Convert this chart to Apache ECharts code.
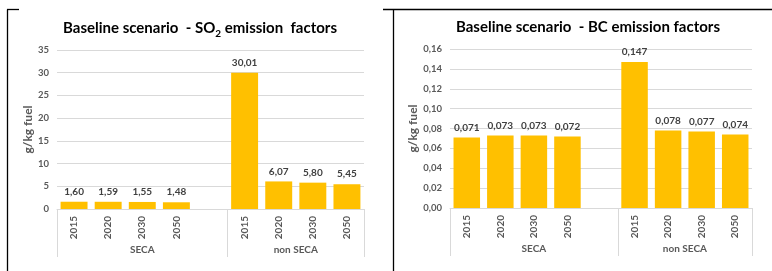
<!DOCTYPE html>
<html>
<head>
<meta charset="utf-8">
<script src="https://cdn.jsdelivr.net/npm/echarts@6/dist/echarts.min.js"></script>
<style>
  html, body { margin: 0; padding: 0; background: #fff; }
  #main { width: 772px; height: 271px; }
</style>
</head>
<body>
<div id="main"></div>
<script>
// data
const years = ['2015', '2020', '2030', '2050']
const groups = ['SECA', 'non SECA']
const so2Seca = [1.60, 1.59, 1.55, 1.48]
const so2NonSeca = [30.01, 6.07, 5.80, 5.45]
const bcSeca = [0.071, 0.073, 0.073, 0.072]
const bcNonSeca = [0.147, 0.078, 0.077, 0.074]
const so2Axis = { min: 0, max: 35, interval: 5 }
const bcAxis = { min: 0, max: 0.16, interval: 0.02 }

const FONT = 'Lato'
const GOLD = '#FFC000'
const GRIDLINE = '#d9d9d9'

// SECA has an empty slot after its years, like the Excel sheet
const categories = years.concat([''], years)
const groupEdges = [0, years.length + 1, years.length * 2 + 1]
const groupCenters = [groupEdges[0] + groupEdges[1], groupEdges[1] + groupEdges[2]].map(v => v / 2)

const comma = (v, d) => v.toFixed(d).replace('.', ',')

const chart = echarts.init(document.getElementById('main'))

// build the axes/series for one panel
function panel(idx, seca, nonSeca, yAx, dec, yDec) {
  const xAxes = [
    {
      type: 'category', gridIndex: idx, position: 'bottom', data: categories,
      axisLine: { lineStyle: { color: GRIDLINE } },
      axisTick: { show: false },
      axisLabel: { rotate: 90, margin: 7, interval: 0, fontFamily: FONT, fontSize: 10, fontWeight: 'bold', color: '#595959' }
    },
    {
      type: 'value', gridIndex: idx, position: 'bottom', min: 0, max: categories.length,
      axisLine: { show: false },
      splitLine: { show: false },
      axisTick: { show: true, customValues: groupEdges, length: 48, lineStyle: { color: GRIDLINE } },
      axisLabel: {
        customValues: groupCenters, margin: 36, fontFamily: FONT, fontSize: 10, fontWeight: 'bold', color: '#595959',
        formatter: v => groups[groupCenters.indexOf(v)]
      }
    }
  ]
  const yAxis = {
    type: 'value', gridIndex: idx, min: yAx.min, max: yAx.max, interval: yAx.interval,
    name: 'g/kg fuel', nameLocation: 'middle', nameGap: yDec ? 27 : 18,
    nameTextStyle: { fontFamily: FONT, fontSize: 12, fontWeight: 'bold', color: '#595959' },
    axisLine: { show: false }, axisTick: { show: false },
    splitLine: { lineStyle: { color: GRIDLINE } },
    axisLabel: { margin: 8, fontFamily: FONT, fontSize: 9.5, fontWeight: 'bold', color: '#595959',
      formatter: v => yDec ? comma(v, yDec) : String(v) }
  }
  const series = {
    type: 'bar', xAxisIndex: idx * 2, yAxisIndex: idx,
    data: seca.concat(['-'], nonSeca),
    barCategoryGap: '21%',
    itemStyle: { color: GOLD },
    label: { show: true, position: 'top', distance: 5, fontFamily: FONT, fontSize: 10, fontWeight: 'bold', color: '#404040',
      formatter: p => comma(p.value, dec) }
  }
  return { xAxes, yAxis, series }
}

const p1 = panel(0, so2Seca, so2NonSeca, so2Axis, 2, 0)
const p2 = panel(1, bcSeca, bcNonSeca, bcAxis, 3, 2)

const titleRich = {
  a: { fontFamily: FONT, fontSize: 15, fontWeight: 'bold', color: '#595959', lineHeight: 22 },
  s: { fontFamily: FONT, fontSize: 10, fontWeight: 'bold', color: '#595959', verticalAlign: 'bottom', lineHeight: 12 }
}
const frame = { stroke: '#000', lineWidth: 1.3 }

chart.setOption({
  animation: false,
  grid: [
    { left: 57, right: 408, top: 50, bottom: 62 },
    { left: 450, right: 20, top: 49, bottom: 63 }
  ],
  xAxis: p1.xAxes.concat(p2.xAxes),
  yAxis: [p1.yAxis, p2.yAxis],
  series: [p1.series, p2.series],
  graphic: [
    { type: 'text', x: 200, y: 28, style: { text: '{a|Baseline scenario  - SO}{s|2}{a| emission  factors}', rich: titleRich, align: 'center', verticalAlign: 'middle' } },
    { type: 'text', x: 588, y: 27, style: { text: '{a|Baseline scenario  - BC emission factors}', rich: titleRich, align: 'center', verticalAlign: 'middle' } },
    { type: 'line', shape: { x1: 7.5, y1: 9.5, x2: 7.5, y2: 271 }, style: frame },
    { type: 'line', shape: { x1: 7, y1: 9.5, x2: 19, y2: 9.5 }, style: frame },
    { type: 'line', shape: { x1: 383, y1: 9.5, x2: 772, y2: 9.5 }, style: frame },
    { type: 'line', shape: { x1: 393.5, y1: 9.5, x2: 393.5, y2: 271 }, style: frame }
  ]
})
</script>
</body>
</html>
